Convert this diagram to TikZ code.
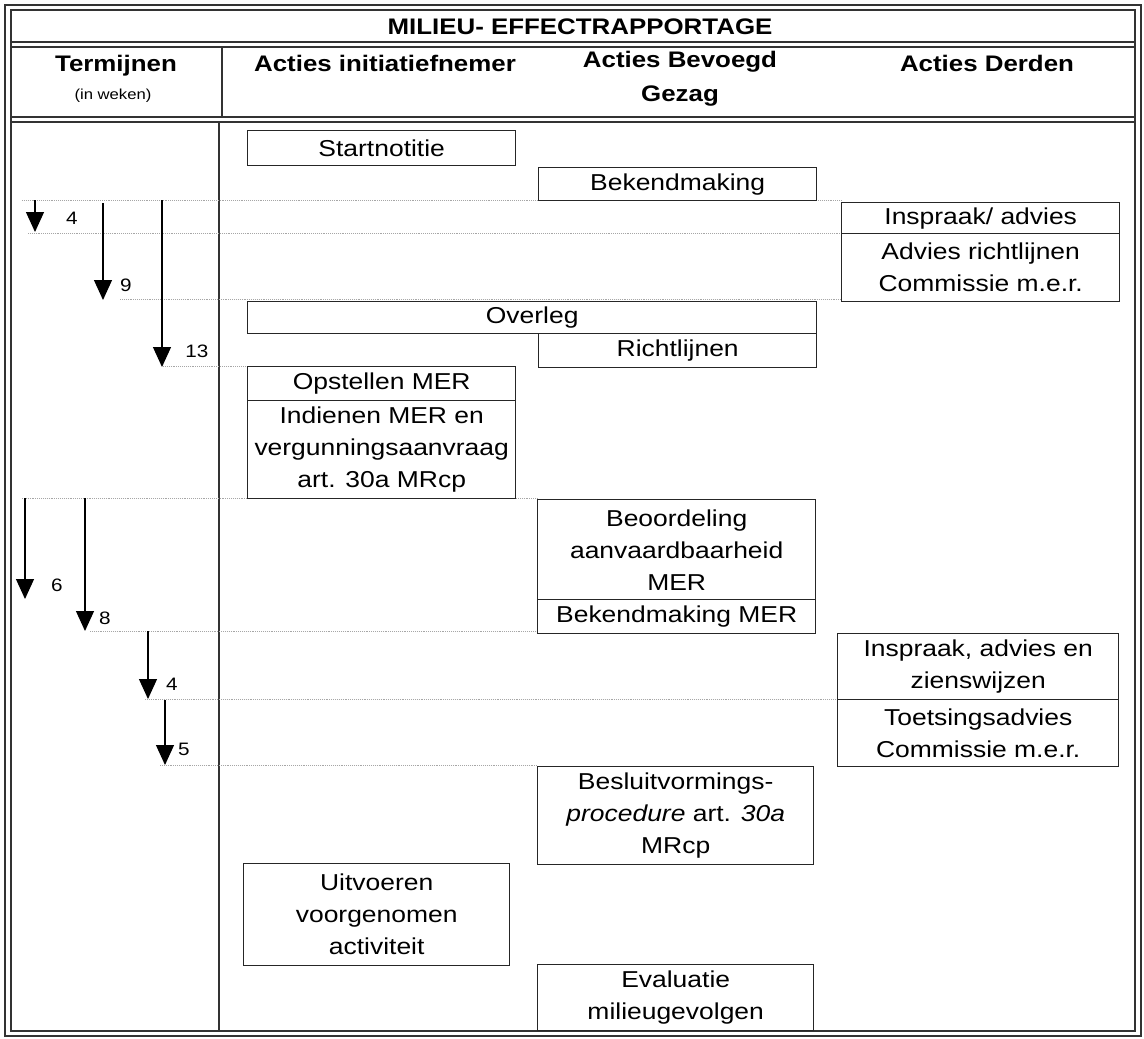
\documentclass[tikz,border=0pt]{standalone}
\usepackage{fontspec}
\setmainfont{Liberation Sans}[FakeStretch=1.15]
\usetikzlibrary{arrows.meta}
\begin{document}
\begin{tikzpicture}[x=1pt,y=-1pt,
  frame/.style={line width=1.1pt,draw=black!80},
  box/.style={draw=black!85,line width=1.4pt,anchor=north west,inner sep=0pt,align=center,
    font=\fontsize{23}{32}\selectfont},
  hdr/.style={font=\fontsize{22.5}{34}\selectfont\bfseries,align=center,inner sep=0pt},
  guide/.style={draw=black!35,line width=0.9pt,densely dotted},
  tarrow/.style={line width=1.2pt,-{Triangle[width=18pt,length=20pt]}},
  num/.style={font=\fontsize{18}{20}\selectfont,inner sep=0pt}]
\useasboundingbox[fill=white] (0,0) rectangle (1144,1039);
% frame
\draw[frame] (5,5) rectangle (1141,1036);
\draw[frame] (11,10) rectangle (1135,1031);
\draw[frame] (11,42) -- (1135,42);
\draw[frame] (11,47) -- (1135,47);
\draw[frame] (11,117) -- (1135,117);
\draw[frame] (11,122) -- (1135,122);
\draw[frame] (222,47) -- (222,117);
\draw[frame] (219,122) -- (219,1031);
% headers
\node[hdr] (title) at (580,27) {MILIEU- EFFECTRAPPORTAGE};
\node[hdr] (termijnen) at (116,66) {Termijnen};
\node[font=\fontsize{14.5}{16}\selectfont,inner sep=0pt] (weken) at (113,96) {(in weken)};
\node[hdr] (hinit) at (385,63) {Acties initiatiefnemer};
\node[hdr,anchor=north] (hbev) at (680,51) {Acties Bevoegd\\Gezag};
\node[hdr] (hderden) at (987,63) {Acties Derden};
% guide lines
\draw[guide] (22,200) -- (841,200);
\draw[guide] (28,233) -- (841,233);
\draw[guide] (120,299) -- (841,299);
\draw[guide] (163,366) -- (247,366);
\draw[guide] (22,498) -- (537,498);
\draw[guide] (90,631) -- (537,631);
\draw[guide] (145,699) -- (837,699);
\draw[guide] (160,765) -- (537,765);
% boxes
\node[box,minimum width=268,minimum height=35] (startnotitie) at (247,130) {Startnotitie};
\node[box,minimum width=278,minimum height=33] (bekend) at (538,167) {Bekendmaking};
\node[box,minimum width=278,minimum height=31] (inspraak) at (841,202) {Inspraak/ advies};
\node[box,minimum width=278,minimum height=68] (adviesr) at (841,233) {Advies richtlijnen\\Commissie m.e.r.};
\node[box,minimum width=569,minimum height=32] (overleg) at (247,301) {Overleg};
\node[box,minimum width=278,minimum height=34] (richtl) at (538,333) {Richtlijnen};
\node[box,minimum width=268,minimum height=34] (opstellen) at (247,366) {Opstellen MER};
\node[box,minimum width=268,minimum height=98] (indienen) at (247,400) {Indienen MER en\\vergunningsaanvraag\\art. 30a MRcp};
\node[box,minimum width=278,minimum height=100] (beoord) at (537,499) {Beoordeling\\aanvaardbaarheid\\MER};
\node[box,minimum width=278,minimum height=34] (bekendmer) at (537,599) {Bekendmaking MER};
\node[box,minimum width=281,minimum height=66] (inspraak2) at (837,633) {Inspraak, advies en\\zienswijzen};
\node[box,minimum width=281,minimum height=67] (toetsing) at (837,699) {Toetsingsadvies\\Commissie m.e.r.};
\node[box,minimum width=276,minimum height=98] (besluit) at (537,766) {Besluitvormings-\\\textit{procedure} art. \textit{30a}\\MRcp};
\node[box,minimum width=266,minimum height=102] (uitvoeren) at (243,863) {Uitvoeren\\voorgenomen\\activiteit};
\node[box,minimum width=276,minimum height=66] (evaluatie) at (537,964) {Evaluatie\\milieugevolgen};
% arrows
\coordinate (a1s) at (35,200); \coordinate (a1e) at (35,232);
\coordinate (a2s) at (103,203); \coordinate (a2e) at (103,300);
\coordinate (a3s) at (162,200); \coordinate (a3e) at (162,367);
\coordinate (a4s) at (25,498); \coordinate (a4e) at (25,599);
\coordinate (a5s) at (85,498); \coordinate (a5e) at (85,631);
\coordinate (a6s) at (148,631); \coordinate (a6e) at (148,699);
\coordinate (a7s) at (165,700); \coordinate (a7e) at (165,765);
\draw[tarrow] (a1s) -- (a1e);
\draw[tarrow] (a2s) -- (a2e);
\draw[tarrow] (a3s) -- (a3e);
\draw[tarrow] (a4s) -- (a4e);
\draw[tarrow] (a5s) -- (a5e);
\draw[tarrow] (a6s) -- (a6e);
\draw[tarrow] (a7s) -- (a7e);
\node[num] (n1) at (72,218) {4};
\node[num] (n2) at (126,285) {9};
\node[num] (n3) at (197,351) {13};
\node[num] (n4) at (57,585) {6};
\node[num] (n5) at (105,618) {8};
\node[num] (n6) at (172,684) {4};
\node[num] (n7) at (184,749) {5};
\end{tikzpicture}
\end{document}
